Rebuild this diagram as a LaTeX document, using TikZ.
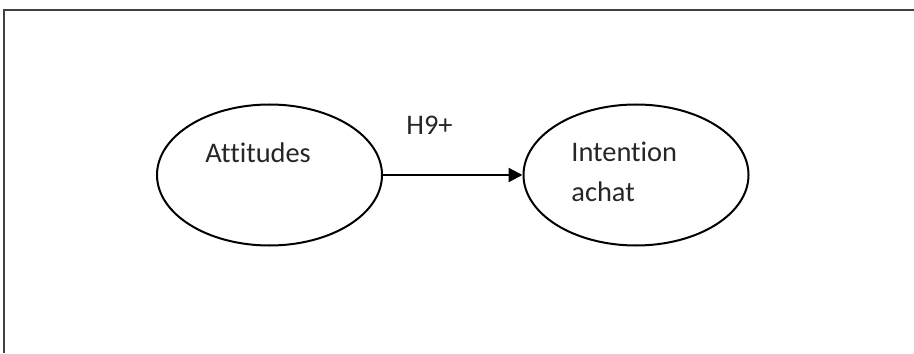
\documentclass[tikz,border=0pt]{standalone}
\usepackage{fontspec}
\setmainfont{Carlito}[Ligatures={NoCommon,NoContextual}]
\usetikzlibrary{shapes.geometric,arrows.meta}
\begin{document}
\begin{tikzpicture}[x=0.5pt,y=-0.5pt,
  construct/.style={draw=black,line width=1pt,ellipse,minimum width=112.5pt,minimum height=70.5pt,inner sep=0pt},
  lbl/.style={anchor=base west,inner sep=0pt,font=\fontsize{14.2}{17}\selectfont,text=black!85},
  frame/.style={draw=black!75,line width=1.4pt},
  link/.style={draw=black,line width=1.1pt,-{Triangle[length=7pt,width=7pt]}}]
\useasboundingbox (0,0) rectangle (914,353);
\coordinate (ftr) at (914,10);
\coordinate (ftl) at (4,10);
\coordinate (fbl) at (4,353);
\draw[frame] (ftr) -- (ftl) -- (fbl);
\node[construct] (att) at (269.5,175) {};
\node[construct] (int) at (636,175) {};
\node[lbl] (tatt) at (205,162) {Attitudes};
\node[lbl] (tint1) at (571,161) {Intention};
\node[lbl] (tint2) at (571,201) {achat};
\node[lbl] (h9) at (406,134) {H9+};
\draw[link] (att.east) -- (int.west);
\end{tikzpicture}
\end{document}
